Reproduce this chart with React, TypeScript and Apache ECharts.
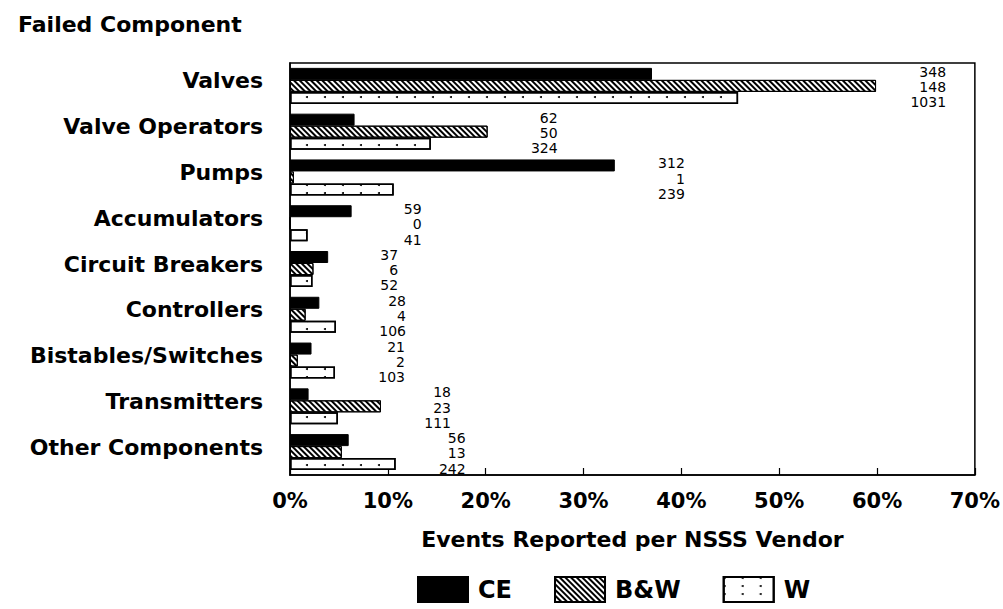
import React, { useEffect, useRef } from "react";
import * as echarts from "echarts";

const categories = [
  "Valves",
  "Valve Operators",
  "Pumps",
  "Accumulators",
  "Circuit Breakers",
  "Controllers",
  "Bistables/Switches",
  "Transmitters",
  "Other Components",
];
const vendors = ["CE", "B&W", "W"];
// percent of events reported per vendor
const cePct = [37.0, 6.6, 33.2, 6.3, 3.9, 3.0, 2.2, 1.9, 6.0];
const bwPct = [59.9, 20.2, 0.4, 0.0, 2.4, 1.6, 0.8, 9.3, 5.3];
const wPct = [45.8, 14.4, 10.6, 1.8, 2.3, 4.7, 4.6, 4.9, 10.8];
// event counts shown as labels
const ceCount = [348, 62, 312, 59, 37, 28, 21, 18, 56];
const bwCount = [148, 50, 1, 0, 6, 4, 2, 23, 13];
const wCount = [1031, 324, 239, 41, 52, 106, 103, 111, 242];
const xTicks = [0, 10, 20, 30, 40, 50, 60, 70];

const FONT = "'DejaVu Sans', Verdana, sans-serif";

export default function App() {
  const ref = useRef<HTMLDivElement>(null);
  useEffect(() => {
    if (!ref.current) return;
    const chart = echarts.init(ref.current, undefined, { renderer: "svg" });
    const labelData = categories.map((_, i) => [
      Math.max(cePct[i], bwPct[i], wPct[i]),
      i,
      ceCount[i],
      bwCount[i],
      wCount[i],
    ]);
    const barBase = {
      type: "bar" as const,
      barWidth: 12,
      barGap: "0%",
      silent: true,
    };
    chart.setOption({
      animation: false,
      backgroundColor: "#ffffff",
      textStyle: { fontFamily: FONT, color: "#000" },
      title: {
        text: "Failed Component",
        left: 13,
        top: 8,
        textStyle: { fontFamily: FONT, fontSize: 22, fontWeight: "bold", color: "#000" },
      },
      grid: {
        left: 290,
        right: 26,
        top: 63,
        bottom: 134,
        show: true,
        borderColor: "#000",
        borderWidth: 1.5,
        backgroundColor: "transparent",
      },
      xAxis: {
        type: "value",
        min: xTicks[0],
        max: xTicks[xTicks.length - 1],
        interval: 10,
        splitLine: { show: false },
        axisLine: { show: true, lineStyle: { color: "#000", width: 1.5 } },
        axisTick: { show: true, inside: true, length: 7, lineStyle: { color: "#000", width: 1.2 } },
        axisLabel: {
          formatter: "{value}%",
          margin: 15,
          fontSize: 21,
          fontWeight: "bold",
          fontFamily: FONT,
          color: "#000",
        },
        name: "Events Reported per NSSS Vendor",
        nameLocation: "middle",
        nameGap: 53,
        nameTextStyle: { fontSize: 22, fontWeight: "bold", fontFamily: FONT, color: "#000" },
      },
      yAxis: {
        type: "category",
        data: categories,
        inverse: true,
        axisLine: { show: true, lineStyle: { color: "#000", width: 1.5 } },
        axisTick: { show: false },
        axisLabel: {
          margin: 27,
          fontSize: 22,
          fontWeight: "bold",
          fontFamily: FONT,
          color: "#000",
          verticalAlign: "bottom",
          lineHeight: 30,
          padding: [0, 0, -10, 0],
        },
        splitLine: { show: false },
      },
      legend: {
        data: vendors,
        left: 412,
        top: 571,
        itemWidth: 50,
        itemHeight: 25,
        itemGap: 42,
        icon: "rect",
        textStyle: {
          fontSize: 24,
          fontWeight: "bold",
          fontFamily: FONT,
          color: "#000",
          padding: [0, 0, 0, 5],
        },
      },
      series: [
        {
          ...barBase,
          name: vendors[0],
          data: cePct,
          itemStyle: { color: "#000", borderColor: "#000", borderWidth: 1 },
        },
        {
          ...barBase,
          name: vendors[1],
          data: bwPct,
          itemStyle: {
            color: "#fff",
            borderColor: "#000",
            borderWidth: 1,
            decal: {
              symbol: "rect",
              symbolSize: 1,
              color: "#000",
              dashArrayX: [1, 0],
              dashArrayY: [2, 1.4],
              rotation: Math.PI / 4,
            },
          },
        },
        {
          ...barBase,
          name: vendors[2],
          data: wPct,
          itemStyle: {
            color: "#fff",
            borderColor: "#000",
            borderWidth: 1.5,
            decal: {
              symbol: "circle",
              symbolSize: 1,
              color: "#000",
              dashArrayX: [2, 16],
              dashArrayY: [2, 6],
              rotation: 0,
            },
          },
        },
        {
          type: "custom",
          name: "labels",
          silent: true,
          data: labelData,
          encode: { x: 0, y: 1 },
          renderItem: (params: any, api: any) => {
            const p = api.coord([api.value(0), api.value(1)]);
            const x = p[0] + 70;
            const offs = [-14, 1.2, 16.4];
            return {
              type: "group",
              children: [2, 3, 4].map((k, j) => ({
                type: "text",
                style: {
                  x,
                  y: p[1] + offs[j],
                  text: String(api.value(k)),
                  align: "right",
                  verticalAlign: "middle",
                  fontSize: 14,
                  fontFamily: FONT,
                  fill: "#000",
                },
              })),
            };
          },
        },
      ],
    });
    return () => chart.dispose();
  }, []);
  return (
    <div
      ref={ref}
      style={{ position: "fixed", left: 0, top: 0, width: 1003, height: 609 }}
    />
  );
}
